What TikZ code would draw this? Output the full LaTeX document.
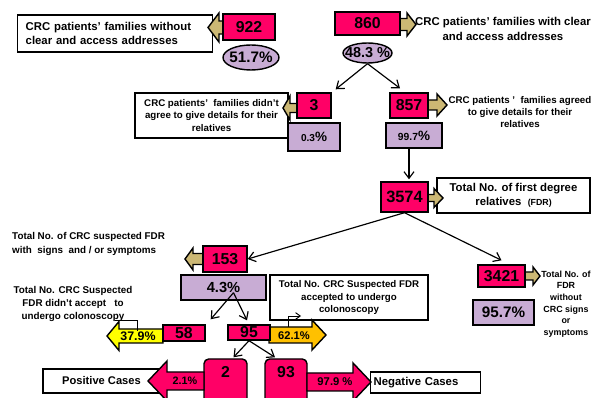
\documentclass[tikz,border=0pt]{standalone}
\usepackage{fontspec}
\setmainfont{Liberation Sans}
\usetikzlibrary{arrows.meta,shapes.geometric,calc}

\definecolor{crcpink}{RGB}{255,0,102}
\definecolor{crctan}{RGB}{204,184,116}
\definecolor{crclilac}{RGB}{200,172,212}
\definecolor{crcyellow}{RGB}{255,255,0}
\definecolor{crcorange}{RGB}{255,192,0}

\tikzset{
  numbox/.style={draw,line width=1.2pt,fill=crcpink,inner sep=0pt},
  numtext/.style={inner sep=0pt,text=black,font=\bfseries\fontsize{13.5}{15}\selectfont},
  pctbox/.style={draw,line width=1.2pt,fill=crclilac,text=black,inner sep=0pt,font=\bfseries\fontsize{11.5}{13}\selectfont},
  pctoval/.style={pctbox,ellipse},
  infobox/.style={draw,line width=1.2pt,fill=white,inner sep=0pt,align=center},
  infotext/.style={inner sep=0pt,align=center},
  tanarrow/.style={draw,line width=1.2pt,fill=crctan},
  link/.style={line width=1pt,-{Straight Barb[length=2mm,width=3mm]}}
}

\newcommand{\blockarrow}[7]{%
  \filldraw[#1] (#2,#5-#6) -- (#3,#5-#6) -- (#3,#5-#7) -- (#4,#5) -- (#3,#5+#7) -- (#3,#5+#6) -- (#2,#5+#6) -- cycle;}

\begin{document}
\begin{tikzpicture}[x=0.3mm,y=-0.3mm]
\useasboundingbox (0,0) rectangle (591,398);

\node[infobox,anchor=west,text width=53.7mm,inner xsep=2.4mm,minimum height=11.1mm,align=left,font=\bfseries\fontsize{9.7}{12.5}\selectfont] (txt922) at (17,33.5) {CRC patients’ families without\\clear and access addresses};
\blockarrow{tanarrow}{223}{219}{208}{27.5}{6.5}{14.5}
\node[numbox,minimum width=15.6mm,minimum height=7.8mm,label={[numtext]center:922}] (n922) at (249,27) {};
\node[pctoval,minimum width=16.8mm,minimum height=7.5mm,font=\bfseries\fontsize{13}{14}\selectfont] (pct517) at (251,57.5) {\makebox[0pt]{51.7\%}};

\blockarrow{tanarrow}{400}{407}{416}{24.5}{6}{11.5}
\node[numbox,minimum width=19.5mm,minimum height=6.9mm,label={[numtext]center:860}] (n860) at (367.5,23.5) {};
\node[infotext,font=\bfseries\fontsize{9.7}{12.5}\selectfont] (txt860) at (503,29) {CRC patients’ families with clear\\and access addresses};
\node[pctoval,minimum width=14.7mm,minimum height=6mm,font=\bfseries\fontsize{12.3}{14}\selectfont] (pct483) at (367.5,53) {\makebox[0pt]{48.3 \%}};

\node[infobox,minimum width=45.9mm,minimum height=13.5mm,font=\bfseries\fontsize{8.3}{10.7}\selectfont] (txt3) at (211.5,115.5) {CRC patients’\ \ families didn't\\agree to give details for their\\relatives};
\blockarrow{tanarrow}{297}{290}{283}{108}{4.5}{12}
\node[numbox,minimum width=10.2mm,minimum height=7.5mm,label={[numtext]center:3}] (n3) at (314,105.5) {};
\node[pctbox,minimum width=15.6mm,minimum height=8.4mm] (pct03) at (314,137) {{\fontsize{8.6}{10}\selectfont 0.3}\%};

\blockarrow{tanarrow}{428}{437}{447}{105}{5}{11}
\node[numbox,minimum width=11.4mm,minimum height=7.5mm,label={[numtext]center:857}] (n857) at (409,105.5) {};
\node[infotext,font=\bfseries\fontsize{8.3}{10.3}\selectfont] (txt857) at (520,112) {CRC patients '\ \ families agreed\\to give details for their\\relatives};
\node[pctbox,minimum width=16.8mm,minimum height=7.5mm] (pct997) at (414,135.5) {{\fontsize{8.8}{10}\selectfont 99.7}\%};

\node[infobox,minimum width=45.9mm,minimum height=10.5mm,font=\bfseries\fontsize{9.7}{12}\selectfont] (txt3574) at (513.5,195.5) {Total No. of first degree\\relatives\ \ {\fontsize{7.5}{9}\selectfont(FDR)}};
\blockarrow{tanarrow}{428}{434}{443}{198}{3.5}{9.5}
\node[numbox,minimum width=14.1mm,minimum height=9mm,label={[numtext,font=\bfseries\fontsize{14}{16}\selectfont]center:3574}] (n3574) at (404.5,197) {};

\node[infotext,anchor=west,align=left,font=\bfseries\fontsize{8.4}{12}\selectfont] (txt153) at (12,244) {Total No. of CRC suspected FDR\\with\ \ signs\ \ and / or symptoms};
\blockarrow{tanarrow}{203}{193}{185}{259}{5.5}{11}
\node[numbox,minimum width=13.2mm,minimum height=7.8mm,label={[numtext]center:153}] (n153) at (225,259) {};
\node[pctbox,minimum width=25.5mm,minimum height=7.5mm,font=\bfseries\fontsize{12.5}{14}\selectfont] (pct43) at (223.5,287.5) {4.3\%};

\node[infotext,font=\bfseries\fontsize{8.4}{11.5}\selectfont] (txtnot) at (73,304) {Total No. CRC Suspected\\FDR didn't accept\ \ \ to\\undergo colonoscopy};
\blockarrow{draw,line width=1.2pt,fill=crcyellow}{163}{119}{107}{336}{7}{14.5}
\node[infotext,font=\bfseries\fontsize{10.6}{12}\selectfont] (a379) at (138,336) {37.9\%};
\node[numbox,minimum width=12.6mm,minimum height=4.8mm,label={[numtext]center:58}] (n58) at (184,333) {};
\coordinate (k379a) at (115,320);
\coordinate (k379b) at (137,331);
\draw[line width=0.8pt] (k379a) -| (k379b);

\node[infobox,minimum width=47.4mm,minimum height=13.5mm,font=\bfseries\fontsize{8.3}{10.7}\selectfont] (txtacc) at (349,297.5) {Total No. CRC Suspected FDR\\accepted to undergo\\colonoscopy};
\blockarrow{draw,line width=1.2pt,fill=crcorange}{269}{312}{326}{335}{8}{15}
\node[infotext,font=\bfseries\fontsize{9.5}{11}\selectfont] (a621) at (294,336) {62.1\%};
\node[numbox,minimum width=12.6mm,minimum height=4.5mm,label={[numtext]center:95}] (n95) at (249,332.5) {};
\coordinate (k621a) at (288,327);
\coordinate (k621b) at (301,316);
\draw[line width=0.8pt,-{Straight Barb[length=1.4mm,width=2mm]}] (k621a) |- (k621b);

\blockarrow{tanarrow}{525}{533}{540}{276}{4}{9}
\node[numbox,minimum width=14.1mm,minimum height=6.6mm,label={[numtext]center:3421}] (n3421) at (501.5,276) {};
\node[infotext,font=\bfseries\fontsize{7.6}{10}\selectfont] (txt3421) at (566,304) {Total No. of\\FDR\\without\\CRC signs\\or\\symptoms};
\node[pctbox,minimum width=18.3mm,minimum height=7.5mm,font=\bfseries\fontsize{13}{14}\selectfont] (pct957) at (503.5,312.5) {95.7\%};

\node[infobox,minimum width=35.1mm,minimum height=7.2mm,font=\bfseries\fontsize{9.5}{11}\selectfont] (txtpos) at (101.5,381) {Positive Cases};
\node[numbox,rounded corners=4pt,minimum width=12.9mm,minimum height=13.8mm,label={[numtext,yshift=3mm]center:2}] (n2) at (225.5,382) {};
\blockarrow{draw,line width=1.2pt,fill=crcpink}{204}{167}{148}{381}{9}{20}
\node[infotext,font=\bfseries\fontsize{9.2}{11}\selectfont] (a21) at (185,381) {2.1\%};

\node[infobox,anchor=west,text width=31.2mm,inner xsep=0.9mm,minimum height=6.3mm,align=left,font=\bfseries\fontsize{9.7}{11}\selectfont] (txtneg) at (370,382.5) {Negative Cases};
\node[numbox,rounded corners=4pt,minimum width=12.6mm,minimum height=13.8mm,label={[numtext,yshift=3mm]center:93}] (n93) at (286,382) {};
\blockarrow{draw,line width=1.2pt,fill=crcpink}{307}{353}{371}{382}{9}{19}
\node[infotext,font=\bfseries\fontsize{9.6}{11}\selectfont] (a979) at (335,382) {97.9 \%};

\draw[link] (pct483.south) -- ($(n3.north east)+(4,-3)$);
\draw[link] (pct483.south) -- ($(n857.north)+(-9,-4)$);
\draw[link] ($(pct997.south)+(-5,0)$) -- ($(n3574.north)+(4.5,-2)$);
\draw[link] (n3574.south) -- (n153.east);
\draw[link] (n3574.south) -- ($(n3421.north)+(0,-4)$);
\draw[link] ($(pct43.south)+(10,-8)$) -- ($(n58.north east)+(5,-5)$);
\draw[link] ($(pct43.south)+(10,-8)$) -- ($(n95.north)+(-2,-4)$);
\draw[link] (n95.south) -- ($(n2.north)+(8,-1)$);
\draw[link] (n95.south) -- ($(n93.north)+(-11,-1)$);
\end{tikzpicture}
\end{document}
